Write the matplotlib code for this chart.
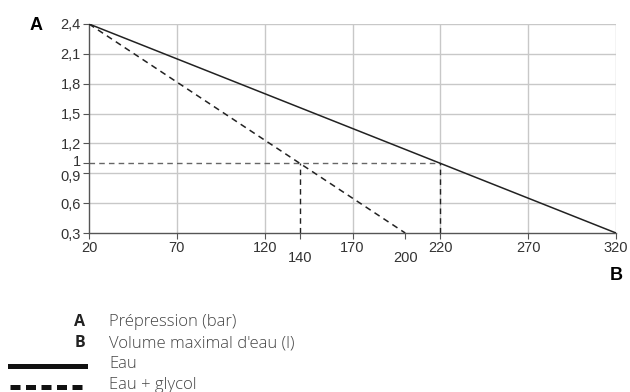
import matplotlib
matplotlib.use('Agg')
import matplotlib.pyplot as plt
import matplotlib.transforms as mtransforms
from matplotlib.lines import Line2D

# data
eau_x = [20, 320]
eau_y = [2.4, 0.3]
glycol_x = [20, 200]
glycol_y = [2.4, 0.3]
grid_x = [20, 70, 120, 170, 220, 270, 320]
grid_y = [0.3, 0.6, 0.9, 1.2, 1.5, 1.8, 2.1, 2.4]
extra_x = [140, 200]
y_labels = ['0,3', '0,6', '0,9', '1,2', '1,5', '1,8', '2,1', '2,4']
ref_y = 1.0
ref_x = [140, 220]
legend_items = [('A', 'Prépression (bar)'), ('B', "Volume maximal d'eau (l)")]
legend_lines = ['Eau', 'Eau + glycol']

plt.rcParams['font.family'] = ['Liberation Sans', 'DejaVu Sans']
fig = plt.figure(figsize=(6.3, 3.92), dpi=100)
ax = fig.add_axes([0.1413, 0.4056, 0.8365, 0.5332])
ax.set_xlim(20, 320)
ax.set_ylim(0.3, 2.4)

gc = '#c8c8c8'
for x in grid_x[1:]:
    ax.axvline(x, color=gc, lw=1, zorder=1)
for y in grid_y[1:]:
    ax.axhline(y, color=gc, lw=1, zorder=1)

# reference dashes at 1 bar
ax.plot([20, ref_x[1]], [ref_y, ref_y], color='#666666', lw=1, dashes=(4, 3), zorder=2)
for x in ref_x:
    ax.plot([x, x], [0.3, ref_y], color='#222222', lw=1, dashes=(4, 3), zorder=2)

ax.plot(eau_x, eau_y, color='#222222', lw=1.1, zorder=3)
ax.plot(glycol_x, glycol_y, color='#222222', lw=1.1, dashes=(4, 3), zorder=3)

for s in ['top', 'right']:
    ax.spines[s].set_visible(False)
for s in ['left', 'bottom']:
    ax.spines[s].set_color('#555555')
    ax.spines[s].set_linewidth(1)

ax.set_xticks(grid_x + extra_x)
ax.set_xticklabels([str(v) for v in grid_x] + [''] * len(extra_x))
ax.set_yticks(grid_y + [ref_y])
ax.set_yticklabels(y_labels + ['1'])
ax.tick_params(axis='both', length=4, color='#555555', labelsize=10.5, labelcolor='#333333')
ax.tick_params(axis='x', pad=2)
ax.tick_params(axis='y', pad=2)
# nudge the close 1 / 0,9 labels apart
for lab in ax.get_yticklabels():
    if lab.get_text() == '1':
        lab.set_transform(lab.get_transform() + mtransforms.ScaledTranslation(0, 2.5 / 100, fig.dpi_scale_trans))
    elif lab.get_text() == '0,9':
        lab.set_transform(lab.get_transform() + mtransforms.ScaledTranslation(0, -2.5 / 100, fig.dpi_scale_trans))
for x in extra_x:
    ax.text(x, -0.12, str(x), transform=ax.get_xaxis_transform(), ha='center', va='center',
            fontsize=10.5, color='#333333')

fig.text(36 / 630, 1 - 26 / 392, 'A', fontsize=13, fontweight='bold', ha='center', va='center')
fig.text(616 / 630, 1 - 275 / 392, 'B', fontsize=13, fontweight='bold', ha='center', va='center')

lf = ['Open Sans', 'DejaVu Sans']
ys = [322, 343, 364, 385]
for (k, t), yy in zip(legend_items, ys[:2]):
    fig.text(85 / 630, 1 - yy / 392, k, fontsize=11.5, fontweight='bold', ha='right', va='center',
             family=lf, color='#222222')
    fig.text(109 / 630, 1 - yy / 392, t, fontsize=12, ha='left', va='center', family=lf,
             color='#444444', fontweight='light')
for i, (t, yy) in enumerate(zip(legend_lines, ys[2:])):
    fig.text(109 / 630, 1 - yy / 392, t, fontsize=12, ha='left', va='center', family=lf,
             color='#444444', fontweight='light')
    ly = 1 - (yy + 2) / 392
    if i == 0:
        fig.add_artist(Line2D([10 / 630, 85 / 630], [ly, ly], color='#111111', lw=3.6))
    else:
        fig.add_artist(Line2D([10 / 630, 85 / 630], [ly, ly], color='#111111', lw=3.6,
                              dashes=(2.0, 1.1)))

fig.savefig('out.png', dpi=100)
